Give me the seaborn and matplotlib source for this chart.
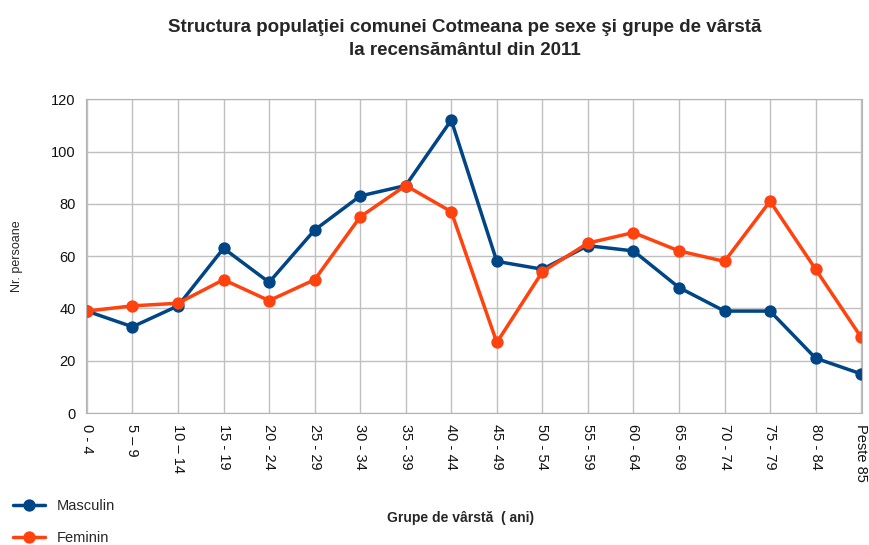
import pandas as pd
import matplotlib.pyplot as plt
import seaborn as sns

grupe = ['0 - 4', '5 – 9', '10 – 14', '15 - 19', '20 - 24', '25 - 29', '30 - 34',
         '35 - 39', '40 - 44', '45 - 49', '50 - 54', '55 - 59', '60 - 64', '65 - 69',
         '70 - 74', '75 - 79', '80 - 84', 'Peste 85']
masculin = [39, 33, 41, 63, 50, 70, 83, 87, 112, 58, 55, 64, 62, 48, 39, 39, 21, 15]
feminin = [39, 41, 42, 51, 43, 51, 75, 87, 77, 27, 54, 65, 69, 62, 58, 81, 55, 29]

df = pd.DataFrame({
    'grupa': grupe * 2,
    'nr': masculin + feminin,
    'sex': ['Masculin'] * len(grupe) + ['Feminin'] * len(grupe),
})

sns.set_style('white')
plt.rcParams['font.family'] = ['Liberation Sans', 'DejaVu Sans']

fig = plt.figure(figsize=(8.69, 5.45), dpi=100)
ax = fig.add_axes([0.099, 0.242, 0.893, 0.576])

sns.pointplot(data=df, x='grupa', y='nr', hue='sex', order=grupe,
              palette={'Masculin': '#004586', 'Feminin': '#ff420e'},
              markers='o', linestyles='-', markersize=7, linewidth=2.5, ax=ax)

ax.set_ylim(0, 120)
ax.set_yticks(range(0, 121, 20))
ax.set_xlim(-0.02, len(grupe) - 0.98)
ax.grid(True, color='#c0c0c0', linewidth=1)
ax.set_axisbelow(True)
for s in ax.spines.values():
    s.set_color('#b3b3b3')
ax.tick_params(axis='both', length=4, color='#b3b3b3', labelsize=10.5, colors='#111111')
ax.tick_params(axis='x', labelrotation=270)
ax.set_ylabel('Nr. persoane', fontsize=9, labelpad=20)
ax.set_xlabel('')

fig.text(0.53, 0.043, 'Grupe de vârstă  ( ani)', ha='center', fontsize=10, fontweight='bold')
fig.suptitle('Structura populaţiei comunei Cotmeana pe sexe şi grupe de vârstă\nla recensământul din 2011',
             x=0.535, y=0.965, fontsize=13.5, fontweight='bold', linespacing=1.45)

handles, labels = ax.get_legend_handles_labels()
ax.legend_.remove()
fig.legend(handles, labels, loc='lower left', bbox_to_anchor=(0.0, -0.025),
           frameon=False, fontsize=10.5, handlelength=2.2, labelspacing=1.25)

fig.savefig('out.png', dpi=100)
